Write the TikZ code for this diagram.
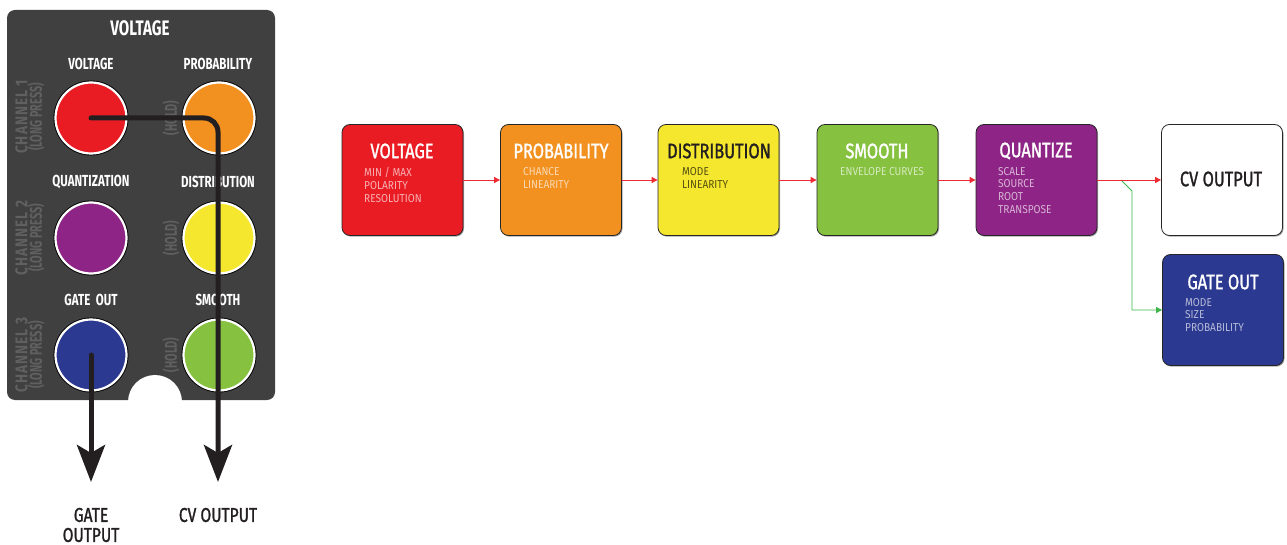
\documentclass[tikz,border=0pt]{standalone}
\usepackage{fontspec}
\setmainfont{Fira Sans}
\newfontfamily\fA[FakeStretch=0.72]{Fira Sans}
\newfontfamily\fB[FakeStretch=0.78, FakeBold=1.3]{Fira Sans}
\newfontfamily\fC[FakeStretch=0.88]{Fira Sans}
\newfontfamily\fS[FakeStretch=0.64]{Fira Sans}
\newfontfamily\fSL[FakeStretch=0.8, LetterSpace=6]{Fira Sans}
\usetikzlibrary{arrows.meta,shadows}
\definecolor{panelgray}{HTML}{404040}
\definecolor{sidegray}{HTML}{606060}
\definecolor{cred}{HTML}{E91C24}
\definecolor{corange}{HTML}{F29120}
\definecolor{cyellow}{HTML}{F5E62E}
\definecolor{cgreen}{HTML}{86C140}
\definecolor{cpurple}{HTML}{8E2586}
\definecolor{cnavy}{HTML}{2B3990}
\definecolor{cline}{HTML}{231F20}
\definecolor{credline}{HTML}{EE2A32}
\definecolor{cgreenline}{HTML}{3DB54A}
\tikzset{
  knob/.style={circle, minimum size=71pt, inner sep=0pt, draw=white, line width=2.2pt,
    preaction={draw=black, line width=4pt}},
  plabel/.style={text=white, inner sep=0pt, font=\fA\bfseries\fontsize{16}{16}\selectfont},
  ptitle/.style={text=white, inner sep=0pt, font=\fA\bfseries\fontsize{21}{21}\selectfont},
  sidelab/.style={text=sidegray, inner sep=0pt, rotate=90, font=\fS\bfseries\fontsize{17}{17}\selectfont},
  sidelabw/.style={text=sidegray, inner sep=0pt, rotate=90, font=\fSL\bfseries\fontsize{17}{17}\selectfont},
  cable/.style={draw=cline, line width=5pt, line cap=round,
    -{Stealth[length=37pt, width=28pt, inset=8pt]}},
  blabel/.style={text=cline, inner sep=0pt, align=center, font=\fB\fontsize{20}{20}\selectfont},
  fbox/.style={rounded corners=8pt, draw=black!85, line width=0.8pt, minimum width=121pt,
    minimum height=111pt, inner sep=0pt,
    drop shadow={shadow xshift=1pt, shadow yshift=-1.2pt, opacity=0.35, fill=black}},
  ftitle/.style={inner sep=0pt, text=white, font=\fB\fontsize{21}{21}\selectfont},
  fsub/.style={inner sep=0pt, anchor=north west, align=left, text=white, text opacity=0.65,
    font=\fC\fontsize{11.5}{12.7}\selectfont},
  redarrow/.style={draw=credline, line width=0.9pt, -{Triangle[length=6pt, width=6pt]}},
  greenarrow/.style={draw=cgreenline, line width=0.9pt, -{Triangle[length=6pt, width=6pt]}}
}
\begin{document}
\begin{tikzpicture}[x=1pt, y=-1pt]
\useasboundingbox (0,0) rectangle (1287,545);
% ---------------- panel ----------------
\fill[panelgray, rounded corners=8pt] (7,10) rectangle (275,400);
\fill[white] (155,402) circle (27pt);
\node[ptitle] (ptv) at (140,28) {VOLTAGE};
\node[plabel] (lv) at (91,64) {VOLTAGE};
\node[plabel] (lp) at (218,64) {PROBABILITY};
\node[plabel] (lq) at (91,182) {QUANTIZATION};
\node[plabel] (ld) at (218,182) {DISTRIBUTION};
\node[plabel] (lg) at (91,300) {GATE\ \ OUT};
\node[plabel] (ls) at (218,300) {SMOOTH};
\node[sidelabw] (c1a) at (21.5,117) {CHANNEL 1};
\node[sidelab] (c1b) at (36,117) {(LONG PRESS)};
\node[sidelabw] (c2a) at (21.5,238) {CHANNEL 2};
\node[sidelab] (c2b) at (36,238) {(LONG PRESS)};
\node[sidelabw] (c3a) at (21.5,355) {CHANNEL 3};
\node[sidelab] (c3b) at (36,355) {(LONG PRESS)};
\node[sidelab] (h1) at (171,118) {(HOLD)};
\node[sidelab] (h2) at (171,238) {(HOLD)};
\node[sidelab] (h3) at (171,355) {(HOLD)};
\node[knob, fill=cred] (kv) at (91,118) {};
\node[knob, fill=corange] (kp) at (219,118) {};
\node[knob, fill=cpurple] (kq) at (91,238) {};
\node[knob, fill=cyellow] (kd) at (219,238) {};
\node[knob, fill=cnavy] (kg) at (91,355) {};
\node[knob, fill=cgreen] (ks) at (219,355) {};
\coordinate (cvend) at (218,482);
\coordinate (gateend) at (91,482);
\draw[cable, rounded corners=14pt] (kv.center) -- (218,118) -- (cvend);
\draw[cable] (kg.center) -- (gateend);
\node[blabel] (gatel) at (91,525) {GATE\\OUTPUT};
\node[blabel] (cvl) at (218,515) {CV OUTPUT};
% ---------------- flow ----------------
\node[fbox, fill=cred] (bv) at (402.5,180) {};
\node[fbox, fill=corange] (bp) at (561,180) {};
\node[fbox, fill=cyellow] (bd) at (718.5,180) {};
\node[fbox, fill=cgreen] (bs) at (877.5,180) {};
\node[fbox, fill=cpurple] (bq) at (1036.5,180) {};
\node[fbox, fill=white] (bcv) at (1222,180) {};
\node[fbox, fill=cnavy] (bg) at (1223,310) {};
\node[ftitle] (tv) at (402,151) {VOLTAGE};
\node[ftitle] (tp) at (561,151) {PROBABILITY};
\node[ftitle, text=cline] (td) at (719,151) {DISTRIBUTION};
\node[ftitle] (ts) at (877,151) {SMOOTH};
\node[ftitle] (tq) at (1036,151) {QUANTIZE};
\node[ftitle, text=cline] (tcv) at (1221,179) {CV OUTPUT};
\node[ftitle] (tg) at (1223,282) {GATE OUT};
\node[fsub] (sv) at (364,167.5) {MIN / MAX\\POLARITY\\RESOLUTION};
\node[fsub] (sp) at (523,167.5) {CHANCE\\LINEARITY};
\node[fsub, text=black, text opacity=0.65] (sd) at (682,167.5) {MODE\\LINEARITY};
\node[fsub] (ss) at (840,167) {ENVELOPE CURVES};
\node[fsub] (sq) at (998,167) {SCALE\\SOURCE\\ROOT\\TRANSPOSE};
\node[fsub] (sg) at (1185,298) {MODE\\SIZE\\PROBABILITY};
\coordinate (gsplit) at (1121,180);
\coordinate (gbend) at (1132,191);
\draw[greenarrow] (gsplit) -- (gbend) -- (gbend |- bg.west) -- (bg.west);
\draw[redarrow] (bv.east) -- (bp.west);
\draw[redarrow] (bp.east) -- (bd.west);
\draw[redarrow] (bd.east) -- (bs.west);
\draw[redarrow] (bs.east) -- (bq.west);
\draw[redarrow] (bq.east) -- (bcv.west);
\end{tikzpicture}
\end{document}
